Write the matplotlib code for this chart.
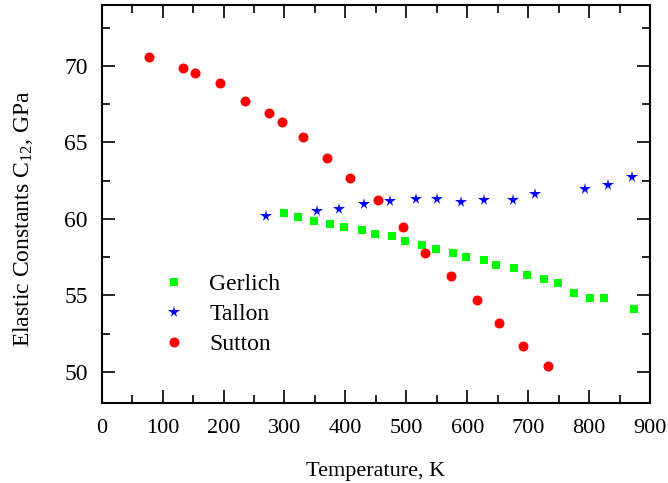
import matplotlib
matplotlib.use("Agg")
import matplotlib.pyplot as plt
from matplotlib.ticker import MultipleLocator

plt.rcParams['font.family'] = ['Liberation Serif', 'DejaVu Serif']
plt.rcParams['mathtext.fontset'] = 'custom'
plt.rcParams['mathtext.rm'] = 'Liberation Serif'
plt.rcParams['mathtext.it'] = 'Liberation Serif:italic'

# Gerlich (squares)
gerlich_T = [300, 323, 349, 375, 398, 427, 449, 476, 498, 525, 548, 576,
             598, 628, 647, 677, 698, 726, 749, 775, 801, 825, 874]
gerlich_C12 = [60.41, 60.10, 59.87, 59.65, 59.50, 59.28, 59.02, 58.86, 58.58,
               58.32, 58.04, 57.80, 57.49, 57.34, 56.97, 56.78, 56.32, 56.09,
               55.80, 55.17, 54.82, 54.82, 54.15]

# Tallon (stars)
tallon_T = [269, 353, 390, 431, 473, 516, 550, 590, 628, 675, 712, 794, 831, 871]
tallon_C12 = [60.22, 60.52, 60.67, 61.00, 61.15, 61.30, 61.30, 61.13, 61.21,
              61.21, 61.60, 61.96, 62.22, 62.76]

# Sutton (circles)
sutton_T = [78, 133, 154, 194, 236, 274, 296, 330, 370, 408, 454, 494, 531,
            573, 616, 653, 691, 732]
sutton_C12 = [70.57, 69.85, 69.56, 68.87, 67.72, 66.95, 66.33, 65.35, 64.00,
              62.66, 61.21, 59.50, 57.78, 56.26, 54.72, 53.19, 51.67, 50.41]

fig = plt.figure(figsize=(6.68, 4.83), dpi=100)
ax = fig.add_axes([0.1522, 0.1663, 0.8208, 0.8242])

ax.plot(gerlich_T, gerlich_C12, 's', color='#00ff00', markersize=6.2,
        markeredgewidth=0, label='Gerlich')
ax.plot(tallon_T, tallon_C12, '*', color='#0000ff', markersize=8.5,
        markeredgewidth=0, label='Tallon')
ax.plot(sutton_T, sutton_C12, 'o', color='#ff0000', markersize=7.2,
        markeredgewidth=0, label='Sutton')

ax.set_xlim(0, 900)
ax.set_ylim(48, 74)
ax.xaxis.set_major_locator(MultipleLocator(100))
ax.xaxis.set_minor_locator(MultipleLocator(50))
ax.yaxis.set_major_locator(MultipleLocator(5))
ax.yaxis.set_minor_locator(MultipleLocator(2.5))

ax.tick_params(which='both', direction='in', top=True, right=True, width=1.2)
ax.tick_params(which='major', length=9.5)
ax.tick_params(which='minor', length=5.5)
ax.tick_params(axis='x', labelsize=16, pad=12)
ax.tick_params(axis='y', labelsize=17, pad=10)
for s in ax.spines.values():
    s.set_linewidth(1.5)

ax.set_xlabel('Temperature, K', fontsize=16, labelpad=17)
ax.set_ylabel(r'Elastic Constants C$_{\mathrm{12}}$, GPa', fontsize=17)
ax.yaxis.set_label_coords(-0.122, 0.461)

ax.legend(loc='upper left', bbox_to_anchor=(0.072, 0.377), frameon=False,
          fontsize=17, handletextpad=0.98, labelspacing=0.35, handlelength=1.0)

fig.savefig('out.png', dpi=100)
